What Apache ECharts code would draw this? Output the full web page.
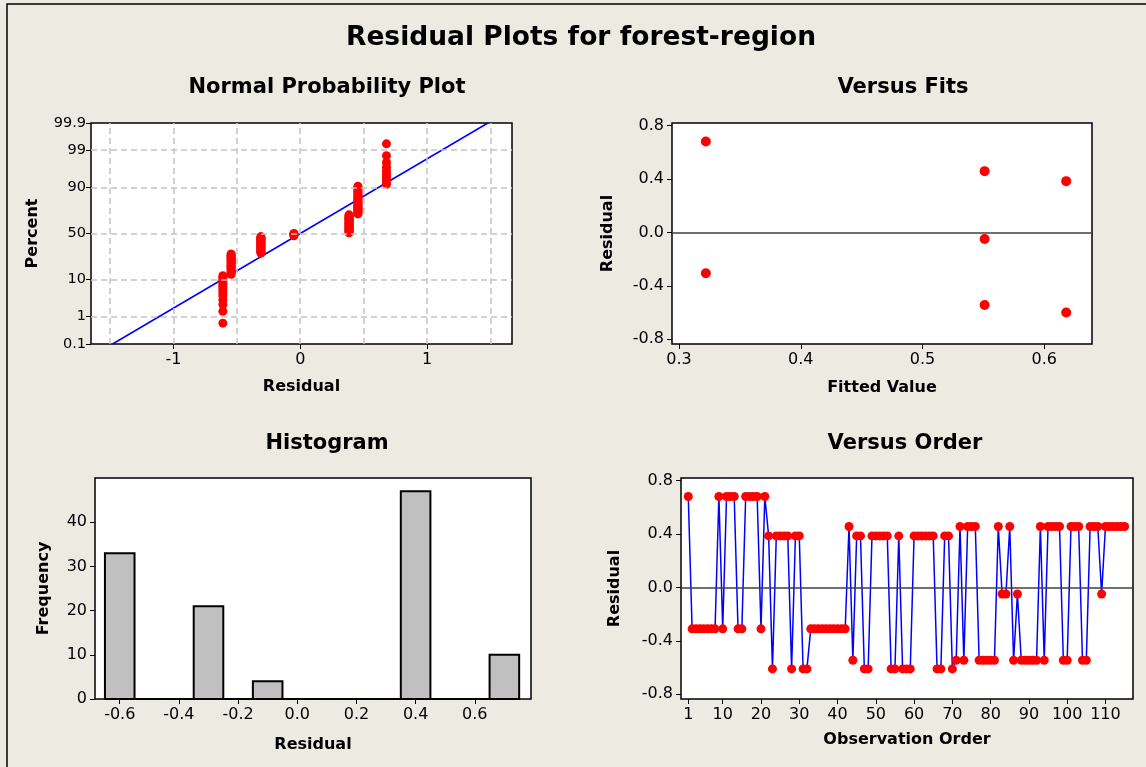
<!DOCTYPE html>
<html>
<head>
<meta charset="utf-8">
<title>Residual Plots for forest-region</title>
<script src="https://cdn.jsdelivr.net/npm/echarts@6/dist/echarts.min.js"></script>
<style>
    html, body { margin: 0; padding: 0; background: #edeae2; }
    #chart { width: 1146px; height: 767px; }
</style>
</head>
<body>
<div id="chart"></div>
<script>
// residuals in observation order
var residuals = [
    0.68, -0.31, -0.31, -0.31, -0.31, -0.31, -0.31, -0.31, 0.68, -0.31,
    0.68, 0.68, 0.68, -0.31, -0.31, 0.68, 0.68, 0.68, 0.68, -0.31,
    0.68, 0.385, -0.61, 0.385, 0.385, 0.385, 0.385, -0.61, 0.385, 0.385,
    -0.61, -0.61, -0.31, -0.31, -0.31, -0.31, -0.31, -0.31, -0.31, -0.31,
    -0.31, -0.31, 0.455, -0.545, 0.385, 0.385, -0.61, -0.61, 0.385, 0.385,
    0.385, 0.385, 0.385, -0.61, -0.61, 0.385, -0.61, -0.61, -0.61, 0.385,
    0.385, 0.385, 0.385, 0.385, 0.385, -0.61, -0.61, 0.385, 0.385, -0.61,
    -0.545, 0.455, -0.545, 0.455, 0.455, 0.455, -0.545, -0.545, -0.545, -0.545,
    -0.545, 0.455, -0.05, -0.05, 0.455, -0.545, -0.05, -0.545, -0.545, -0.545,
    -0.545, -0.545, 0.455, -0.545, 0.455, 0.455, 0.455, 0.455, -0.545, -0.545,
    0.455, 0.455, 0.455, -0.545, -0.545, 0.455, 0.455, 0.455, -0.05, 0.455,
    0.455, 0.455, 0.455, 0.455, 0.455
];
var orderTicks = [1, 10, 20, 30, 40, 50, 60, 70, 80, 90, 100, 110];

// Versus Fits: the distinct (fitted value, residual) pairs
var fitValues = [0.322, 0.322, 0.551, 0.551, 0.551, 0.618, 0.618];
var fitResiduals = [0.68, -0.306, 0.458, -0.05, -0.543, 0.383, -0.6];
var fitTicks = [0.3, 0.4, 0.5, 0.6];
var residTicks = [-0.8, -0.4, 0, 0.4, 0.8];

// Histogram
var binMids = [-0.6, -0.5, -0.4, -0.3, -0.2, -0.1, 0.0, 0.1, 0.2, 0.3, 0.4, 0.5, 0.6, 0.7];
var binCounts = [33, 0, 0, 21, 0, 4, 0, 0, 0, 0, 47, 0, 0, 10];
var binWidth = 0.1;
var histTicks = [-0.6, -0.4, -0.2, 0, 0.2, 0.4, 0.6];
var freqTicks = [0, 10, 20, 30, 40];

// Normal probability plot
var percentTicks = [0.1, 1, 10, 50, 90, 99, 99.9];
var percentGrid = [1, 10, 50, 90, 99];
var normResidTicks = [-1, 0, 1];
var normResidGrid = [-1.5, -1, -0.5, 0, 0.5, 1, 1.5];
var refLineX = [-1.48, 1.48];
var refLinePct = [0.1, 99.9];

// inverse normal cdf (Acklam), used to put percents on the probability scale
function normInv(p) {
    var a = [-39.69683028665376, 220.9460984245205, -275.9285104469687, 138.3577518672690, -30.66479806614716, 2.506628277459239];
    var b = [-54.47609879822406, 161.5858368580409, -155.6989798598866, 66.80131188771972, -13.28068155288572];
    var c = [-0.007784894002430293, -0.3223964580411365, -2.400758277161838, -2.549732539343734, 4.374664141464968, 2.938163982698783];
    var d = [0.007784695709041462, 0.3224671290700398, 2.445134137142996, 3.754408661907416];
    var q, r;
    if (p < 0.02425) {
        q = Math.sqrt(-2 * Math.log(p));
        return (((((c[0] * q + c[1]) * q + c[2]) * q + c[3]) * q + c[4]) * q + c[5]) /
            ((((d[0] * q + d[1]) * q + d[2]) * q + d[3]) * q + 1);
    }
    if (p > 1 - 0.02425) {
        return -normInv(1 - p);
    }
    q = p - 0.5;
    r = q * q;
    return (((((a[0] * r + a[1]) * r + a[2]) * r + a[3]) * r + a[4]) * r + a[5]) * q /
        (((((b[0] * r + b[1]) * r + b[2]) * r + b[3]) * r + b[4]) * r + 1);
}
function pctToZ(pct) {
    return normInv(pct / 100);
}
function zToPctLabel(v) {
    var best = 0;
    percentTicks.forEach(function (p, i) {
        if (Math.abs(pctToZ(p) - v) < Math.abs(pctToZ(percentTicks[best]) - v)) {
            best = i;
        }
    });
    return String(percentTicks[best]);
}

var sorted = residuals.slice().sort(function (x, y) { return x - y; });
var n = sorted.length;
var probData = sorted.map(function (r, i) {
    return [r, normInv((i + 1 - 0.3) / (n + 0.4))];
});

var FONT = 'DejaVu Sans';
var RED = '#ff0000';
var BLUE = '#0000ff';
var labelStyle = {fontFamily: FONT, fontSize: 16, color: '#000', margin: 8};
var nameStyle = {fontFamily: FONT, fontSize: 16, fontWeight: 'bold', color: '#000'};
var tickStyle = {show: true, length: 5, lineStyle: {color: '#000', width: 1}};
var gridStyle = {
    show: true, backgroundColor: '#fff', borderColor: '#000', borderWidth: 1.5,
    containLabel: false, outerBoundsMode: 'none'
};
var dashed = {color: '#c4c4c4', width: 1.5, type: [6, 4]};
var zeroLine = {
    silent: true, symbol: 'none', label: {show: false},
    lineStyle: {color: '#404040', width: 1.5, type: 'solid'},
    data: [{yAxis: 0}]
};

function fixed1(v) {
    return (Math.round(v * 10) / 10).toFixed(1);
}

function valueAxis(idx, min, max, ticks, fmt, name, gap, fontSize, margin) {
    return {
        type: 'value', gridIndex: idx, min: min, max: max,
        axisLine: {show: false, onZero: false},
        splitLine: {show: false},
        axisTick: Object.assign({customValues: ticks}, tickStyle),
        axisLabel: Object.assign({}, labelStyle, {
            customValues: ticks, formatter: fmt,
            fontSize: fontSize || labelStyle.fontSize,
            margin: margin || labelStyle.margin
        }),
        name: name, nameLocation: 'middle', nameGap: gap, nameTextStyle: nameStyle
    };
}

var chart = echarts.init(document.getElementById('chart'));

var option = {
    backgroundColor: '#edeae2',
    animation: false,
    graphic: [
        {type: 'rect', shape: {x: 7, y: 4, width: 1160, height: 790},
            style: {fill: 'none', stroke: '#000', lineWidth: 1.5}},
        {type: 'text', x: 581, y: 38, style: {text: 'Residual Plots for forest-region',
            font: 'bold 26.5px "DejaVu Sans"', fill: '#000', textAlign: 'center', textVerticalAlign: 'middle'}},
        {type: 'text', x: 327, y: 88, style: {text: 'Normal Probability Plot',
            font: 'bold 21px "DejaVu Sans"', fill: '#000', textAlign: 'center', textVerticalAlign: 'middle'}},
        {type: 'text', x: 903, y: 88, style: {text: 'Versus Fits',
            font: 'bold 21px "DejaVu Sans"', fill: '#000', textAlign: 'center', textVerticalAlign: 'middle'}},
        {type: 'text', x: 327, y: 444, style: {text: 'Histogram',
            font: 'bold 21px "DejaVu Sans"', fill: '#000', textAlign: 'center', textVerticalAlign: 'middle'}},
        {type: 'text', x: 905, y: 444, style: {text: 'Versus Order',
            font: 'bold 21px "DejaVu Sans"', fill: '#000', textAlign: 'center', textVerticalAlign: 'middle'}}
    ],
    grid: [
        Object.assign({left: 91, top: 123, width: 421, height: 221}, gridStyle),
        Object.assign({left: 672, top: 123, width: 420, height: 221}, gridStyle),
        Object.assign({left: 95, top: 478, width: 436, height: 221}, gridStyle),
        Object.assign({left: 681, top: 478, width: 452, height: 221}, gridStyle)
    ],
    xAxis: [
        valueAxis(0, -1.65, 1.67, normResidTicks, function (v) { return String(Math.round(v)); }, 'Residual', 35),
        valueAxis(1, 0.2942, 0.6392, fitTicks, fixed1, 'Fitted Value', 36),
        valueAxis(2, -0.6836, 0.79, histTicks, fixed1, 'Residual', 38),
        valueAxis(3, -0.9, 117.2, orderTicks, function (v) { return String(Math.round(v)); }, 'Observation Order', 33)
    ],
    yAxis: [
        valueAxis(0, pctToZ(0.1), pctToZ(99.9), percentTicks.map(pctToZ), zToPctLabel, 'Percent', 50, 14.5, 5),
        valueAxis(1, -0.835, 0.818, residTicks, fixed1, 'Residual', 56),
        valueAxis(2, 0, 50, freqTicks, function (v) { return String(v); }, 'Frequency', 43),
        valueAxis(3, -0.835, 0.818, residTicks, fixed1, 'Residual', 58)
    ],
    series: [
        {
            // dashed reference grid of the probability plot
            type: 'line', xAxisIndex: 0, yAxisIndex: 0, data: [], z: 1,
            markLine: {
                silent: true, symbol: 'none', label: {show: false}, lineStyle: dashed,
                data: normResidGrid.map(function (v) { return {xAxis: v}; })
                    .concat(percentGrid.map(function (p) { return {yAxis: pctToZ(p)}; }))
            }
        },
        {
            type: 'line', xAxisIndex: 0, yAxisIndex: 0, z: 2, symbol: 'none',
            lineStyle: {color: BLUE, width: 1.5},
            data: refLineX.map(function (x, i) { return [x, pctToZ(refLinePct[i])]; })
        },
        {
            type: 'scatter', xAxisIndex: 0, yAxisIndex: 0, z: 3,
            symbolSize: 9, itemStyle: {color: RED, opacity: 1},
            data: probData
        },
        {
            type: 'scatter', xAxisIndex: 1, yAxisIndex: 1, z: 3,
            symbolSize: 10, itemStyle: {color: RED, opacity: 1},
            data: fitValues.map(function (f, i) { return [f, fitResiduals[i]]; }),
            markLine: zeroLine
        },
        {
            type: 'custom', xAxisIndex: 2, yAxisIndex: 2,
            data: binMids.map(function (m, i) { return [m, binCounts[i]]; }),
            renderItem: function (params, api) {
                var p0 = api.coord([api.value(0) - binWidth / 2, api.value(1)]);
                var p1 = api.coord([api.value(0) + binWidth / 2, 0]);
                return {
                    type: 'rect',
                    shape: {x: p0[0], y: p0[1], width: p1[0] - p0[0], height: p1[1] - p0[1]},
                    style: {fill: '#c0c0c0', stroke: '#000', lineWidth: 2}
                };
            }
        },
        {
            type: 'line', xAxisIndex: 3, yAxisIndex: 3, z: 3,
            symbol: 'circle', symbolSize: 9, showAllSymbol: true,
            itemStyle: {color: RED, opacity: 1},
            lineStyle: {color: BLUE, width: 1.5},
            data: residuals.map(function (r, i) { return [i + 1, r]; }),
            markLine: zeroLine
        }
    ]
};

chart.setOption(option);
</script>
</body>
</html>
